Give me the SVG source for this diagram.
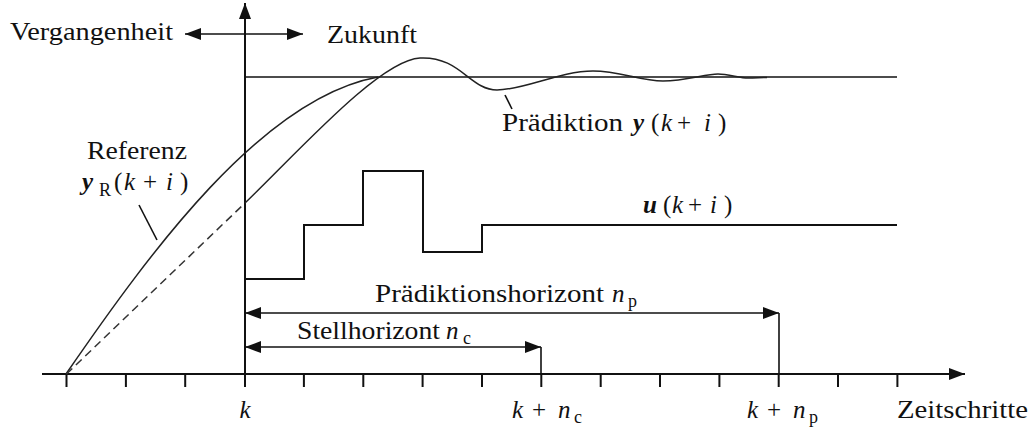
<svg xmlns="http://www.w3.org/2000/svg" width="1034" height="428" viewBox="0 0 1034 428">
<style>
text{font-family:"Liberation Serif",Tinos,"Noto Serif","Times New Roman","DejaVu Serif",serif;font-size:25px;fill:#111}
.m{font-style:italic}
.b{font-style:italic;font-weight:bold}
.s{font-size:18px}
.ln{fill:none;stroke:#111;stroke-width:1.6}
.ax{fill:none;stroke:#111;stroke-width:2}
.st{fill:none;stroke:#111;stroke-width:2;stroke-linejoin:miter}
.cv{fill:none;stroke:#222;stroke-width:1.5}
.ds{fill:none;stroke:#333;stroke-width:1.5;stroke-dasharray:8 5}
</style>
<defs>
<marker id="ah" viewBox="0 0 16 12" refX="16" refY="6" markerWidth="16" markerHeight="12" markerUnits="userSpaceOnUse" orient="auto-start-reverse">
<path d="M0,0 L16,6 L0,12 z" fill="#111"/>
</marker>
</defs>
<rect width="1034" height="428" fill="#fff"/>
<g id="connectors">
<line class="ax" x1="42" y1="374" x2="965" y2="374" marker-end="url(#ah)"/>
<line class="ax" x1="245" y1="387" x2="245" y2="3" marker-end="url(#ah)"/>
<line class="ln" x1="185" y1="34" x2="303" y2="34" marker-start="url(#ah)" marker-end="url(#ah)"/>
<line class="ln" x1="245" y1="313" x2="779" y2="313" marker-start="url(#ah)" marker-end="url(#ah)"/>
<line class="ln" x1="779" y1="313" x2="779" y2="374"/>
<line class="ln" x1="245" y1="347" x2="541" y2="347" marker-start="url(#ah)" marker-end="url(#ah)"/>
<line class="ln" x1="541" y1="347" x2="541" y2="374"/>
<path class="ax" d="M66.5,374v13M125.9,374v13M185.2,374v13M303.9,374v13M363.3,374v13M422.6,374v13M482,374v13M541.3,374v13M600.7,374v13M660,374v13M719.4,374v13M778.7,374v13M838,374v13M897.4,374v13"/>
<line class="ln" x1="139" y1="205" x2="157" y2="240"/>
<line class="ln" x1="505" y1="95" x2="512" y2="109"/>
</g>
<g id="setpoint">
<line class="ln" x1="245" y1="77" x2="897" y2="77"/>
</g>
<g id="referenz-curve">
<path class="cv" d="M66,374 C150,252 262,98 378,77"/>
</g>
<g id="prediction-curve">
<path class="ds" d="M66.5,374 L245,203"/>
<path class="cv" d="M245,203 C300,150 380,60 420,58 C460,56 470,90 497,90 C524,90 560,71 593,71 C620,71 640,81 663,81 C686,81 705,74 718,74 C728,74 740,78 748,78 C756,78 760,77.5 767,77.5"/>
</g>
<g id="input-steps">
<path class="st" d="M245,279 H304 V225 H363 V171 H423 V252 H482 V225 H897"/>
</g>
<g id="label-vergangenheit"><text x="10" y="40" textLength="163" lengthAdjust="spacingAndGlyphs">Vergangenheit</text></g>
<g id="label-zukunft"><text x="327" y="43" textLength="90" lengthAdjust="spacingAndGlyphs">Zukunft</text></g>
<g id="label-referenz">
<text x="87" y="159" textLength="100" lengthAdjust="spacingAndGlyphs">Referenz</text>
<text y="190"><tspan class="b" x="82">y</tspan><tspan class="s" x="99" y="196">R</tspan><tspan x="114" y="190">(</tspan><tspan class="m" x="124">k</tspan><tspan x="143">+</tspan><tspan class="m" x="166">i</tspan><tspan x="180">)</tspan></text>
</g>
<g id="label-praediktion">
<text x="502" y="131" textLength="121" lengthAdjust="spacingAndGlyphs">Prädiktion</text>
<text y="131"><tspan class="b" x="633">y</tspan><tspan x="651">(</tspan><tspan class="m" x="661">k</tspan><tspan x="677">+</tspan><tspan class="m" x="704">i</tspan><tspan x="718">)</tspan></text>
</g>
<g id="label-u">
<text y="213"><tspan class="b" x="643">u</tspan><tspan x="663">(</tspan><tspan class="m" x="672">k</tspan><tspan x="688">+</tspan><tspan class="m" x="710">i</tspan><tspan x="724">)</tspan></text>
</g>
<g id="label-np">
<text x="375" y="302" textLength="229" lengthAdjust="spacingAndGlyphs">Prädiktionshorizont</text>
<text y="302"><tspan class="m" x="612">n</tspan><tspan class="s" x="628" y="307">p</tspan></text>
</g>
<g id="label-nc">
<text x="297" y="339" textLength="143" lengthAdjust="spacingAndGlyphs">Stellhorizont</text>
<text y="339"><tspan class="m" x="446">n</tspan><tspan class="s" x="463" y="344">c</tspan></text>
</g>
<g id="label-k"><text class="m" x="245" y="418" text-anchor="middle">k</text></g>
<g id="label-knc"><text y="418"><tspan class="m" x="512">k</tspan><tspan x="532">+</tspan><tspan class="m" x="558">n</tspan><tspan class="s" x="574" y="423">c</tspan></text></g>
<g id="label-knp"><text y="418"><tspan class="m" x="747">k</tspan><tspan x="767">+</tspan><tspan class="m" x="793">n</tspan><tspan class="s" x="809" y="423">p</tspan></text></g>
<g id="label-zeitschritte"><text x="897" y="418" textLength="131" lengthAdjust="spacingAndGlyphs">Zeitschritte</text></g>
</svg>
